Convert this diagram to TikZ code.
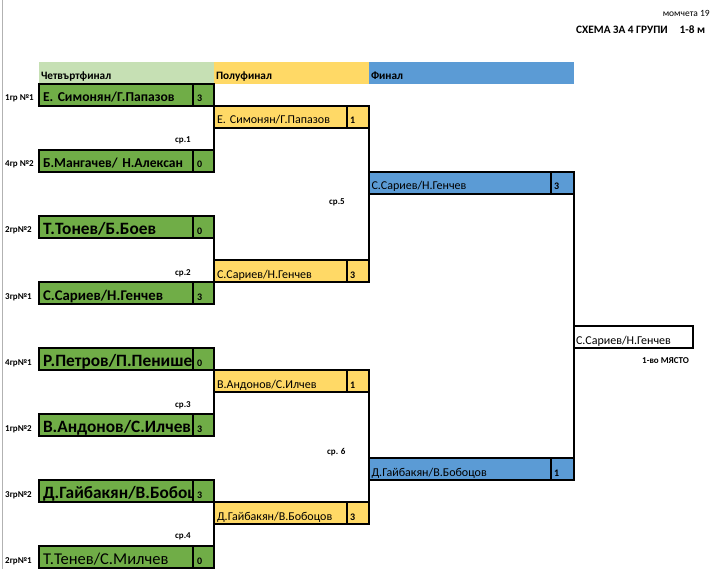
\documentclass[tikz,border=0pt]{standalone}
\usepackage{fontspec}
\setmainfont{Carlito}
\usepackage{xcolor}
\usepackage{tikz}
\usetikzlibrary{positioning}
\definecolor{qfgreen}{RGB}{112,173,71}
\definecolor{qfhead}{RGB}{198,224,180}
\definecolor{sfyellow}{RGB}{255,217,102}
\definecolor{fblue}{RGB}{91,155,213}

\begin{document}
\begin{tikzpicture}[x=1pt, y=-1pt,
    box/.style={rectangle, draw, line width=2.2pt, outer sep=0pt, inner ysep=4pt, text height=14pt, text depth=0pt, minimum height=22pt, anchor=north west, align=left},
    head/.style={rectangle, outer sep=0pt, inner xsep=2pt, inner ysep=4pt, text height=14pt, text depth=0pt, minimum height=22pt, anchor=north west, align=left, font=\fontsize{11.3}{12}\selectfont\bfseries},
    qfbox/.style={box, fill=qfgreen, inner xsep=4pt, text width=146pt, font=\fontsize{13.6}{14}\selectfont\bfseries},
    qfbig/.style={qfbox, font=\fontsize{17.3}{18}\selectfont\bfseries},
    qfscore/.style={box, fill=qfgreen, inner xsep=4pt, text width=13pt, font=\fontsize{10}{10}\selectfont\bfseries},
    sfbox/.style={box, fill=sfyellow, inner xsep=3pt, text width=127pt, font=\fontsize{12}{12}\selectfont},
    sfscore/.style={box, fill=sfyellow, inner xsep=3pt, text width=16pt, font=\fontsize{10}{10}\selectfont\bfseries},
    fbox/.style={box, fill=fblue, inner xsep=2.5pt, text width=177pt, font=\fontsize{12}{12}\selectfont},
    fscore/.style={box, fill=fblue, inner xsep=3pt, text width=17pt, font=\fontsize{10}{10}\selectfont\bfseries},
    grp/.style={anchor=base west, inner sep=0pt, font=\fontsize{9}{9}\selectfont\bfseries},
    match/.style={anchor=base west, inner sep=0pt, font=\fontsize{9}{9}\selectfont\bfseries},
    conn/.style={line width=2.2pt}
]
\clip (0,0) rectangle (711,569);

% sheet edge
\draw[gray!60, line width=1pt] (2,0) -- (2,569);

% Title
\node[anchor=base east, inner sep=0pt, font=\fontsize{9.5}{12}\selectfont] (sex) at (710,17) {момчета 19};
\node[anchor=base west, inner sep=0pt, font=\fontsize{11.3}{12}\selectfont\bfseries] (title) at (576,34) {СХЕМА ЗА 4 ГРУПИ\hspace{12pt}1-8 м};

% Column headers
\node[head, fill=qfhead, text width=171pt] (hq) at (39,62) {Четвъртфинал};
\node[head, fill=sfyellow, text width=151pt, right=0pt of hq] (hs) {Полуфинал};
\node[head, fill=fblue, text width=201pt, right=0pt of hs] (hf) {Финал};

% Quarterfinals
\node[qfbox] (q1) at (39,84) {Е. Симонян/Г.Папазов};
\node[qfscore, right=0pt of q1] (q1s) {3};
\node[qfbox] (q2) at (39,150) {Б.Мангачев/ Н.Алексан};
\node[qfscore, right=0pt of q2] (q2s) {0};
\node[qfbig] (q3) at (39,216) {Т.Тонев/Б.Боев};
\node[qfscore, right=0pt of q3] (q3s) {0};
\node[qfbox, font=\fontsize{14.8}{15}\selectfont\bfseries] (q4) at (39,282) {С.Сариев/Н.Генчев};
\node[qfscore, right=0pt of q4] (q4s) {3};
\node[qfbig] (q5) at (39,348) {Р.Петров/П.Пенише};
\node[qfscore, right=0pt of q5] (q5s) {0};
\node[qfbig] (q6) at (39,414) {В.Андонов/С.Илчев};
\node[qfscore, right=0pt of q6] (q6s) {3};
\node[qfbig] (q7) at (39,480) {Д.Гайбакян/В.Бобоц};
\node[qfscore, right=0pt of q7] (q7s) {3};
\node[qfbox, font=\fontsize{16.5}{17}\selectfont] (q8) at (39,546) {Т.Тенев/С.Милчев};
\node[qfscore, right=0pt of q8] (q8s) {0};

% Group labels (left side)
\node[grp] (g1) at (5,101) {1гр №1};
\node[grp] (g2) at (5,167) {4гр №2};
\node[grp] (g3) at (5,233) {2гр№2};
\node[grp] (g4) at (5,299) {3гр№1};
\node[grp] (g5) at (5,365) {4гр№1};
\node[grp] (g6) at (5,431) {1гр№2};
\node[grp] (g7) at (5,497) {3гр№2};
\node[grp] (g8) at (5,563) {2гр№1};

% Semifinals
\node[sfbox] (s1) at (214,106) {Е. Симонян/Г.Папазов};
\node[sfscore, right=0pt of s1] (s1s) {1};
\node[sfbox] (s2) at (214,260) {С.Сариев/Н.Генчев};
\node[sfscore, right=0pt of s2] (s2s) {3};
\node[sfbox] (s3) at (214,370) {В.Андонов/С.Илчев};
\node[sfscore, right=0pt of s3] (s3s) {1};
\node[sfbox] (s4) at (214,502) {Д.Гайбакян/В.Бобоцов};
\node[sfscore, right=0pt of s4] (s4s) {3};

% Final
\node[fbox] (f1) at (369,172) {С.Сариев/Н.Генчев};
\node[fscore, right=0pt of f1] (f1s) {3};
\node[fbox] (f2) at (369,458) {Д.Гайбакян/В.Бобоцов};
\node[fscore, right=0pt of f2] (f2s) {1};

% Winner
\node[box, fill=white, inner xsep=2pt, text width=115pt, font=\fontsize{12}{12}\selectfont] (win) at (574,326) {С.Сариев/Н.Генчев};
\node[anchor=base west, inner sep=0pt, font=\fontsize{9}{9}\selectfont\bfseries] (place) at (642,363) {1-во МЯСТО};

% Bracket lines
\draw[conn] (q1s.south east) -- (q2s.north east);
\draw[conn] (q3s.south east) -- (q4s.north east);
\draw[conn] (q5s.south east) -- (q6s.north east);
\draw[conn] (q7s.south east) -- (q8s.north east);
\draw[conn] (s1s.south east) -- (s2s.north east);
\draw[conn] (s3s.south east) -- (s4s.north east);
\draw[conn] (f1s.south east) -- (f2s.north east);

% Match numbers
\node[match] (m1) at (175,143) {ср.1};
\node[match] (m2) at (175,275) {ср.2};
\node[match] (m3) at (175,407) {ср.3};
\node[match] (m4) at (175,538) {ср.4};
\node[match] (m5) at (329,205) {ср.5};
\node[match] (m6) at (327,454) {ср. 6};

\end{tikzpicture}
\end{document}
